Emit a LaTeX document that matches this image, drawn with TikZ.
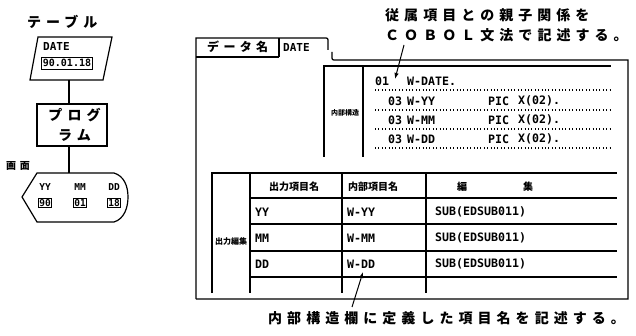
\documentclass[tikz,border=0pt]{standalone}
\usepackage{fontspec}
\newfontfamily\jp{Noto Sans CJK JP}
\newfontfamily\jpw{Noto Sans CJK JP}[LetterSpace=36]
\newfontfamily\mono{DejaVu Sans Mono}
\usetikzlibrary{arrows.meta}
\tikzset{
  jbig/.style={font=\jpw\bfseries\fontsize{14}{16}\selectfont, inner sep=0, anchor=west},
  jsmall/.style={font=\jp\bfseries\fontsize{8}{9}\selectfont, inner sep=0},
  jhead/.style={font=\jp\bfseries\fontsize{10}{11}\selectfont, inner sep=0},
  mtxt/.style={font=\mono\bfseries\fontsize{11.6}{12}\selectfont, inner sep=0, anchor=west},
  stxt/.style={font=\mono\bfseries\fontsize{9.5}{10}\selectfont, inner sep=0},
  ln/.style={line width=1.2pt},
  thin/.style={line width=0.9pt},
  dots/.style={line width=1.1pt, dash pattern=on 1pt off 2.4pt},
  arr/.style={line width=1pt, -{Latex[length=6pt,width=4.5pt]}},
}
\begin{document}
\begin{tikzpicture}[x=1pt,y=-1pt]
\useasboundingbox (0,0) rectangle (636,336);

% ---------------- left flow ----------------
\node[jbig] (tbl) at (27,22) {テーブル};
\draw[ln] (38,37) -- (112,37) -- (103,80) -- (30,80) -- cycle;
\coordinate (tblbot) at (69,80);
\node[stxt, anchor=west, font=\mono\bfseries\fontsize{11}{11}\selectfont] (date) at (43,46) {DATE};
\node[stxt, draw, thin, inner sep=1.2pt, minimum width=49pt, minimum height=12pt,
      font=\mono\bfseries\fontsize{10}{10}\selectfont] (dval) at (67,63) {90.01.18};

\node[draw, ln, minimum width=70pt, minimum height=42pt, inner sep=0,
      font=\jpw\bfseries\fontsize{14}{20}\selectfont, align=center] (prog) at (72,125) {\hspace*{5pt}プログ\\\hspace*{5pt}ラム};
\draw[ln] (tblbot) -- (tblbot |- prog.north);

\node[font=\jpw\bfseries\fontsize{10}{12}\selectfont, inner sep=0, anchor=west] (scr) at (6,166) {画面};
\draw[ln] (22,197) -- (37,173) -- (114,173) .. controls (124,176) and (128,186) .. (128,197)
          .. controls (128,208) and (124,219) .. (114,222) -- (37,222) -- cycle;
\coordinate (scrtop) at (69,173);
\draw[ln] (prog.south -| scrtop) -- (scrtop);
\node[stxt] (yy) at (45,187) {YY};
\node[stxt] (mm) at (80,187) {MM};
\node[stxt] (dd) at (114,187) {DD};
\node[stxt, draw, thin, inner sep=1pt] (v1) at (45,203) {90};
\node[stxt, draw, thin, inner sep=1pt] (v2) at (80,203) {01};
\node[stxt, draw, thin, inner sep=1pt] (v3) at (114,203) {18};

% ---------------- right frame ----------------
\draw[ln] (196,299) -- (196,38) -- (324,38) .. controls (328,38) .. (328,42) -- (328,50);
\draw[ln] (332,52) -- (332,56) .. controls (332,60) .. (336,60) -- (628,60) -- (628,299) -- (196,299);
\draw[ln] (196,57) -- (279,57);
\draw[ln] (279,38) -- (279,57);
\node[font=\jpw\bfseries\fontsize{12}{14}\selectfont, inner sep=0, anchor=west] (dn) at (207,47) {データ名};
\node[stxt, anchor=west, font=\mono\bfseries\fontsize{11}{11}\selectfont] (dnv) at (283,47) {DATE};

% ---------------- top table ----------------
\draw[ln] (324,157) -- (324,66) -- (611,66);
\draw[ln] (363,66) -- (363,157);
\node[jsmall, font=\jp\bfseries\fontsize{7}{8}\selectfont] (naibu) at (345,113) {内部構造};
\foreach \y in {90,110,129,148} \draw[dots] (375,\y) -- (611,\y);
\node[mtxt] (l01) at (375,81) {01};
\node[mtxt] (wdate) at (407,81) {W-DATE.};
\node[mtxt] (l03a) at (388,101) {03};
\node[mtxt] (wyy) at (407,101) {W-YY};
\node[mtxt] (p1) at (488,101) {PIC};
\node[mtxt] (x1) at (518,101) {X(02).};
\node[mtxt] (l03b) at (388,120) {03};
\node[mtxt] (wmm) at (407,120) {W-MM};
\node[mtxt] (p2) at (488,120) {PIC};
\node[mtxt] (x2) at (518,120) {X(02).};
\node[mtxt] (l03c) at (388,139) {03};
\node[mtxt] (wdd) at (407,139) {W-DD};
\node[mtxt] (p3) at (488,139) {PIC};
\node[mtxt] (x3) at (518,139) {X(02).};

% ---------------- bottom table ----------------
\draw[ln] (212,293) -- (212,173) -- (617,173);
\foreach \x in {250,342,426} \draw[ln] (\x,173) -- (\x,293);
\foreach \y in {198,224,251,277} \draw[ln] (250,\y) -- (617,\y);
\node[jhead] (h1) at (294,187) {出力項目名};
\node[jhead] (h2) at (373,187) {内部項目名};
\node[jhead] (h3a) at (462,187) {編};
\node[jhead] (h3b) at (528,187) {集};
\node[jsmall] (shu) at (231,241) {出力編集};
\node[mtxt] (r1a) at (255,212) {YY};
\node[mtxt] (r1b) at (347,212) {W-YY};
\node[mtxt] (r1c) at (435,212) {SUB(EDSUB011)};
\node[mtxt] (r2a) at (255,238) {MM};
\node[mtxt] (r2b) at (347,238) {W-MM};
\node[mtxt] (r2c) at (435,238) {SUB(EDSUB011)};
\node[mtxt] (r3a) at (255,264) {DD};
\node[mtxt] (r3b) at (347,264) {W-DD};
\node[mtxt] (r3c) at (435,264) {SUB(EDSUB011)};

% ---------------- annotations ----------------
\node[jbig] (ann1) at (385,15) {従属項目との親子関係を};
\node[jbig] (ann2) at (385,35) {ＣＯＢＯＬ文法で記述する。};
\coordinate (a1s) at (404,45);
\coordinate (a1e) at (395,79);
\draw[arr] (a1s) -- (a1e);
\node[jbig] (ann3) at (268,318) {内部構造欄に定義した項目名を記述する。};
\coordinate (a2s) at (352,307);
\coordinate (a2e) at (363,272);
\draw[arr] (a2s) -- (a2e);
\end{tikzpicture}
\end{document}
